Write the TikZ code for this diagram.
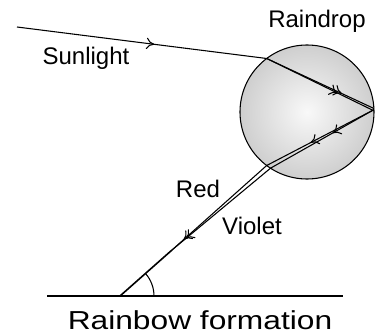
\documentclass[tikz,border=0pt]{standalone}
\usepackage{fontspec}
\setmainfont{Liberation Sans}
\usepackage{graphicx}
\usepackage{tikz}
\usetikzlibrary{calc,decorations.markings,arrows.meta,positioning}
\tikzstyle{ray} = [line width=0.8pt]
\tikzstyle{lbl} = [inner sep=0pt, anchor=base, font=\fontsize{18}{20}\selectfont]
\tikzstyle{midarrow} = [postaction={decorate}, decoration={markings, mark=at position #1 with {\arrow{To[length=6pt,width=8.5pt]}}}]

\begin{document}
\begin{tikzpicture}[x=0.75pt,y=0.75pt]
      \useasboundingbox (0,0) rectangle (379,336);
      \pgfmathsetmacro{\Arc}{34};
      \node[circle, draw, line width=0.8pt, inner sep=0pt, outer sep=0pt, minimum size=100.5pt,
            inner color=gray!5, outer color=gray!38] (drop) at (307,224) {};
      \coordinate (sun) at (17,309);
      \coordinate (merge) at (172,86);
      \coordinate (ground) at (120,40);
      \coordinate (groundL) at (47,40);
      \coordinate (groundR) at (343,40);
      %
      \draw[ray, midarrow=0.55] (sun) -- (drop.127);
      \draw[ray, midarrow=0.66] (drop.127) -- (drop.1);
      \draw[ray, midarrow=0.70] (drop.127) -- (drop.3);
      \draw[ray, midarrow=0.59] (drop.2) -- (drop.233);
      \draw[ray, midarrow=0.40] (drop.2) -- (drop.237);
      \draw[ray, midarrow=0.88] (drop.233) -- (merge);
      \draw[ray, midarrow=0.86] (drop.237) -- (merge);
      \draw[line width=1.2pt] (merge) -- (ground);
      %
      \draw[ray] (groundL) -- (groundR);
      \draw[ray] ($(ground)+(\Arc,0)$) arc (0:41.5:\Arc);
      %
      \node[lbl] (SunLabel) at (86,271) {Sunlight};
      \node[lbl] (DropLabel) at (317,308) {Raindrop};
      \node[lbl] (RedLabel) at (198,138) {Red};
      \node[lbl] (VioletLabel) at (252,101) {Violet};
      \node[lbl, font=\fontsize{19.5}{22}\selectfont] (Caption) at (200,6) {\scalebox{1.22}[1]{Rainbow formation}};
    \end{tikzpicture}
\end{document}
